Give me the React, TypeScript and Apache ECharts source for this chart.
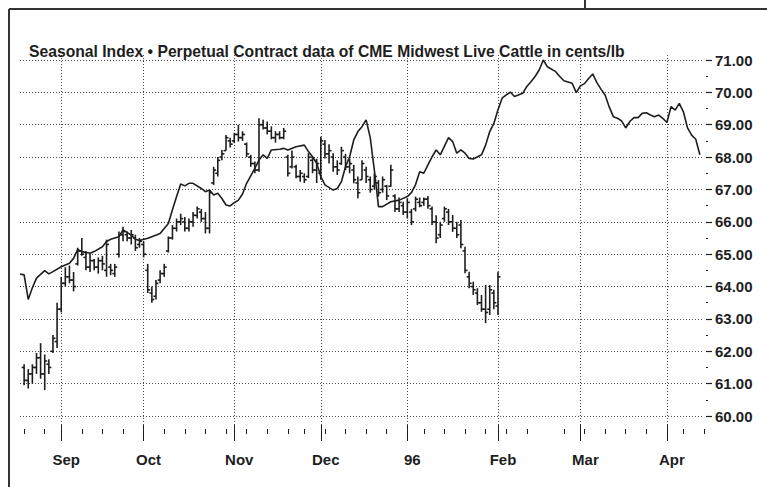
import React, { useEffect, useRef } from 'react';
import * as echarts from 'echarts';

const TITLE = 'Seasonal Index \u2022 Perpetual Contract data of CME Midwest Live Cattle in cents/lb';
const FIRST_DAY = '1995-08-18';
const LAST_DAY = '1996-04-15';
const HOLIDAYS = ['1995-09-04', '1995-11-23', '1996-01-01', '1996-02-19', '1996-04-05'];
const MONTH_LABELS = ['Sep', 'Oct', 'Nov', 'Dec', '96', 'Feb', 'Mar', 'Apr'];
const Y_MIN = 60;
const Y_MAX = 71;

// Seasonal index line: trading-day index -> value
const lineIdx = [0, 1, 2, 3, 4, 6, 7, 8, 10, 12, 13, 14, 15, 17, 18, 20, 21, 22, 24, 25, 27, 28, 29, 31, 32, 34, 36, 37, 38, 39,
  40, 41, 42, 44, 45, 46, 47, 48, 49, 50, 51, 52, 53, 54, 55, 56, 57, 58, 59, 60, 61, 63, 64, 65, 67, 69, 70, 71, 72, 73,
  74, 76, 77, 78, 79, 80, 81, 82, 83, 84, 85, 86, 87, 88, 90, 92, 94, 95, 96, 97, 98, 99, 100, 101, 102, 104, 105, 106, 107, 108,
  109, 110, 112, 113, 114, 115, 116, 117, 118, 119, 120, 122, 123, 124, 125, 126, 127, 128, 130, 131, 132, 134, 135, 136, 137, 138,
  139, 140, 141, 142, 143, 144, 145, 146, 147, 148, 149, 150, 151, 152, 153, 154, 155, 156, 157, 158, 159, 160, 161, 162, 163, 164, 165];
const lineVal = [64.39, 64.36, 63.60, 63.96, 64.26, 64.49, 64.39, 64.46, 64.61, 64.72, 64.87, 65.15, 65.08, 65.03, 65.08, 65.23, 65.39, 65.46, 65.54, 65.75, 65.59, 65.46, 65.42, 65.49, 65.54, 65.64, 65.95, 66.37, 66.78, 67.17,
  67.11, 67.19, 67.19, 67.03, 66.93, 66.98, 66.83, 66.88, 66.72, 66.52, 66.49, 66.59, 66.67, 66.86, 67.19, 67.42, 67.65, 67.91, 68.07, 67.96, 68.22, 68.24, 68.27, 68.22, 68.32, 68.37, 68.17, 68.01, 67.81, 67.40,
  67.14, 66.98, 67.03, 67.24, 67.70, 68.01, 68.53, 68.79, 68.94, 69.15, 68.60, 67.60, 66.47, 66.47, 66.62, 66.67, 66.78, 66.90, 67.15, 67.55, 67.50, 67.76, 68.01, 68.22, 68.07, 68.60, 68.48, 68.12, 68.22, 68.12,
  67.96, 67.94, 68.07, 68.37, 68.79, 69.04, 69.46, 69.82, 69.92, 70.01, 69.87, 69.97, 70.18, 70.33, 70.49, 70.69, 71.00, 70.79, 70.64, 70.49, 70.36, 70.28, 69.99, 70.20, 70.27, 70.43,
  70.57, 70.30, 70.10, 69.92, 69.55, 69.25, 69.20, 69.12, 68.90, 69.10, 69.22, 69.22, 69.35, 69.37, 69.30, 69.25, 69.30, 69.20, 69.07, 69.56, 69.45, 69.66, 69.40, 68.90, 68.68, 68.55, 68.07];

// Perpetual contract daily bars, starting at trading-day index 1
const barStart = 1;
const barHigh = [61.60, 61.45, 61.60, 61.95, 62.25, 61.90, 61.75, 62.50, 63.50, 64.30, 64.60, 64.65, 64.45, 65.20, 65.50, 65.10, 65.00, 64.85, 64.90, 64.95,
  65.45, 64.70, 64.70, 65.70, 65.85, 65.70, 65.75, 65.60, 65.50, 65.40, 64.70, 64.00, 64.20, 64.50, 64.70, 65.55, 65.90, 66.10, 66.25, 66.15,
  66.10, 66.30, 66.47, 66.40, 66.30, 66.98, 67.70, 68.00, 68.22, 68.68, 68.60, 68.75, 69.00, 68.80, 68.45, 68.07, 67.86, 69.20, 69.15, 69.10,
  68.95, 68.80, 68.80, 68.90, 68.07, 68.20, 67.76, 67.60, 67.50, 68.12, 68.00, 67.95, 68.63, 68.53, 68.40, 68.12, 67.90, 68.32, 68.10, 67.95,
  67.76, 67.40, 67.90, 67.70, 67.40, 67.50, 67.29, 67.40, 67.14, 67.76, 66.85, 66.75, 66.62, 66.73, 66.40, 66.78, 66.75, 66.75, 66.80, 66.47,
  66.20, 66.00, 66.47, 66.40, 66.21, 66.00, 66.06, 65.23, 64.46, 64.15, 63.95, 63.74, 64.05, 64.05, 63.90, 64.46];
const barLow = [60.95, 60.85, 61.00, 61.30, 61.15, 60.80, 61.30, 61.95, 62.10, 63.20, 64.00, 64.10, 63.85, 64.65, 64.95, 64.50, 64.45, 64.50, 64.40, 64.50,
  64.30, 64.35, 64.30, 64.90, 65.40, 65.40, 65.30, 65.10, 65.20, 64.90, 63.80, 63.50, 63.60, 64.10, 64.30, 65.05, 65.45, 65.70, 65.90, 65.70,
  65.70, 65.85, 66.10, 66.00, 65.64, 65.64, 67.14, 67.40, 67.90, 68.20, 68.30, 68.43, 68.48, 68.50, 68.00, 67.70, 67.50, 67.55, 68.85, 68.70,
  68.55, 68.45, 68.55, 68.55, 67.40, 67.65, 67.35, 67.24, 67.20, 67.35, 67.50, 67.20, 67.30, 67.96, 67.80, 67.55, 67.45, 67.76, 67.60, 67.50,
  67.19, 66.73, 67.30, 67.20, 66.90, 67.00, 66.78, 66.90, 66.67, 67.08, 66.30, 66.30, 66.21, 66.10, 65.90, 66.32, 66.45, 66.50, 66.40, 65.90,
  65.34, 65.50, 66.00, 65.90, 65.69, 65.50, 65.18, 64.41, 63.95, 63.74, 63.43, 63.22, 62.87, 63.12, 63.30, 63.12];
const barOpen = [61.5, 61.1, 61.3, 61.5, 61.8, 61.3, 61.6, 62.0, 62.3, 63.3, 64.1, 64.3, 64.2, 64.7, 65.1, 64.9, 64.6, 64.8, 64.6, 64.8,
  64.5, 64.6, 64.4, 65.0, 65.6, 65.6, 65.5, 65.5, 65.3, 65.3, 64.5, 63.8, 63.7, 64.2, 64.4, 65.1, 65.5, 65.8, 66.0, 66.0,
  65.8, 66.0, 66.2, 66.3, 66.1, 65.8, 67.2, 67.5, 68.0, 68.2, 68.5, 68.5, 68.7, 68.6, 68.4, 68.0, 67.8, 67.6, 69.0, 68.9,
  68.8, 68.6, 68.7, 68.6, 68.0, 67.7, 67.7, 67.4, 67.4, 67.4, 67.9, 67.6, 67.5, 68.4, 68.1, 68.0, 67.7, 67.8, 68.0, 67.7,
  67.6, 67.2, 67.3, 67.6, 67.3, 67.1, 67.2, 67.0, 67.1, 67.1, 66.8, 66.4, 66.5, 66.3, 66.3, 66.4, 66.6, 66.6, 66.7, 66.4,
  66.0, 65.6, 66.1, 66.3, 66.0, 65.8, 65.9, 65.1, 64.3, 64.0, 63.8, 63.5, 63.3, 63.3, 63.8, 63.4];
const barClose = [61.1, 61.3, 61.5, 61.8, 61.3, 61.7, 61.5, 62.4, 63.3, 64.1, 64.3, 64.2, 64.0, 65.1, 65.0, 64.6, 64.8, 64.6, 64.8, 64.7,
  65.3, 64.5, 64.6, 65.6, 65.7, 65.5, 65.6, 65.2, 65.4, 65.0, 63.9, 63.6, 64.1, 64.4, 64.6, 65.5, 65.8, 66.0, 66.1, 65.8,
  66.0, 66.2, 66.4, 66.1, 65.8, 66.9, 67.6, 67.9, 68.1, 68.6, 68.4, 68.7, 68.6, 68.7, 68.1, 67.8, 67.6, 69.0, 68.9, 68.8,
  68.6, 68.7, 68.6, 68.8, 67.5, 68.0, 67.4, 67.5, 67.3, 68.0, 67.6, 67.8, 68.5, 68.1, 68.2, 67.7, 67.6, 68.2, 67.7, 67.8,
  67.3, 66.9, 67.8, 67.4, 67.0, 67.4, 66.9, 67.3, 66.8, 67.6, 66.4, 66.6, 66.3, 66.6, 66.0, 66.7, 66.5, 66.7, 66.5, 66.0,
  65.5, 65.9, 66.4, 66.0, 65.8, 65.6, 65.3, 64.5, 64.1, 63.9, 63.5, 63.3, 63.2, 63.9, 63.5, 64.3];

const FONT = "'Liberation Sans', Arial, sans-serif";
const INK = '#1e1e1e';
const GRID_COLOR = '#4a4a4a';

function tradingDays(): string[] {
  const out: string[] = [];
  let t = Date.parse(FIRST_DAY + 'T00:00:00Z');
  const end = Date.parse(LAST_DAY + 'T00:00:00Z');
  while (t <= end) {
    const d = new Date(t);
    const wd = d.getUTCDay();
    const s = d.toISOString().slice(0, 10);
    if (wd !== 0 && wd !== 6 && !HOLIDAYS.includes(s)) out.push(s);
    t += 86400000;
  }
  return out;
}

export default function App() {
  const ref = useRef<HTMLDivElement>(null);
  useEffect(() => {
    if (!ref.current) return;
    const chart = echarts.init(ref.current, undefined, { renderer: 'svg' });
    const cats = tradingDays();
    const monthStarts: number[] = [];
    cats.forEach((c, i) => {
      if (i > 0 && c.slice(0, 7) !== cats[i - 1].slice(0, 7)) monthStarts.push(i);
    });
    const labelAt: Record<number, string> = {};
    monthStarts.forEach((idx, k) => { labelAt[idx] = MONTH_LABELS[k] ?? ''; });
    const isMonthStart = (i: number) => labelAt[i] !== undefined;
    const isMonday = (i: number) => new Date(cats[i] + 'T00:00:00Z').getUTCDay() === 1;

    const barData = barHigh.map((h, k) => [barStart + k, barOpen[k], barClose[k], barLow[k], h]);
    const lineData = lineIdx.map((x, k) => [x, lineVal[k]]);
    const GRID_L = 20;
    const GRID_R = 63;
    const dotted = { color: GRID_COLOR, width: 1, type: [1, 2] as any };

    chart.setOption({
      animation: false,
      backgroundColor: '#ffffff',
      title: {
        text: TITLE,
        left: 24,
        top: 38,
        textStyle: { fontFamily: FONT, fontWeight: 'bold', fontSize: 15.7, color: INK },
      },
      grid: [
        { left: GRID_L, right: GRID_R, top: 60, bottom: 487 - 416 },
        { left: GRID_L, right: GRID_R, top: 55, bottom: 487 - 425 },
      ],
      xAxis: [
        {
          gridIndex: 0, type: 'category', data: cats, boundaryGap: false, show: false, position: 'bottom',
        },
        {
          gridIndex: 1, type: 'category', data: cats, boundaryGap: false, offset: 2, position: 'bottom',
          axisLine: { show: false },
          axisTick: { show: true, interval: (i: number) => isMonthStart(i), length: 16, lineStyle: { color: INK, width: 1 } },
          axisLabel: {
            interval: (i: number) => isMonthStart(i),
            formatter: (_v: string, i: number) => labelAt[i] ?? '',
            fontFamily: FONT, fontWeight: 'bold', fontSize: 15, color: INK, margin: 25,
            padding: [0, 0, 0, 10],
          },
          splitLine: { show: true, interval: (i: number) => isMonthStart(i), lineStyle: dotted },
        },
        {
          gridIndex: 1, type: 'category', data: cats, boundaryGap: false, offset: 4, position: 'bottom',
          axisLine: { show: false },
          axisTick: { show: true, interval: (i: number) => isMonday(i), length: 5, lineStyle: { color: INK, width: 1 } },
          axisLabel: { show: false },
          splitLine: { show: false },
        },
      ],
      yAxis: [
        {
          gridIndex: 0, type: 'value', position: 'right', min: Y_MIN, max: Y_MAX, interval: 1, offset: 2,
          axisLine: { show: false },
          axisTick: { show: true, length: 6, lineStyle: { color: INK, width: 1.2 } },
          minorTick: { show: true, splitNumber: 2, length: 2, lineStyle: { color: INK, width: 1.2 } },
          axisLabel: {
            formatter: (v: number) => v.toFixed(2),
            fontFamily: FONT, fontWeight: 'bold', fontSize: 15, color: INK, margin: 9,
          },
          splitLine: { show: true, lineStyle: dotted },
        },
        { gridIndex: 1, type: 'value', min: 0, max: 1, show: false },
      ],
      series: [
        {
          type: 'custom',
          xAxisIndex: 0,
          yAxisIndex: 0,
          encode: { x: 0, y: [1, 2, 3, 4] },
          data: barData,
          renderItem: (_params: any, api: any) => {
            const x = api.value(0);
            const pO = api.coord([x, api.value(1)]);
            const pC = api.coord([x, api.value(2)]);
            const pL = api.coord([x, api.value(3)]);
            const pH = api.coord([x, api.value(4)]);
            const st = { stroke: INK, lineWidth: 1.6 };
            return {
              type: 'group',
              children: [
                { type: 'line', shape: { x1: pH[0], y1: pH[1], x2: pL[0], y2: pL[1] }, style: st },
                { type: 'line', shape: { x1: pO[0] - 2.5, y1: pO[1], x2: pO[0], y2: pO[1] }, style: st },
                { type: 'line', shape: { x1: pC[0], y1: pC[1], x2: pC[0] + 2.5, y2: pC[1] }, style: st },
              ],
            };
          },
        },
        {
          type: 'line',
          xAxisIndex: 0,
          yAxisIndex: 0,
          data: lineData,
          showSymbol: false,
          symbol: 'none',
          lineStyle: { color: INK, width: 1.6 },
        },
      ],
      graphic: [
        { type: 'line', shape: { x1: 9, y1: 9, x2: 767, y2: 9 }, style: { stroke: '#333', lineWidth: 2 } },
        { type: 'line', shape: { x1: 9, y1: 9, x2: 9, y2: 487 }, style: { stroke: '#333', lineWidth: 2 } },
        { type: 'line', shape: { x1: 585, y1: 0, x2: 585, y2: 9 }, style: { stroke: '#333', lineWidth: 2 } },
      ],
    });
    return () => chart.dispose();
  }, []);
  return (
    <div
      ref={ref}
      style={{ position: 'fixed', left: 0, top: 0, width: 767, height: 487, background: '#fff' }}
    />
  );
}
